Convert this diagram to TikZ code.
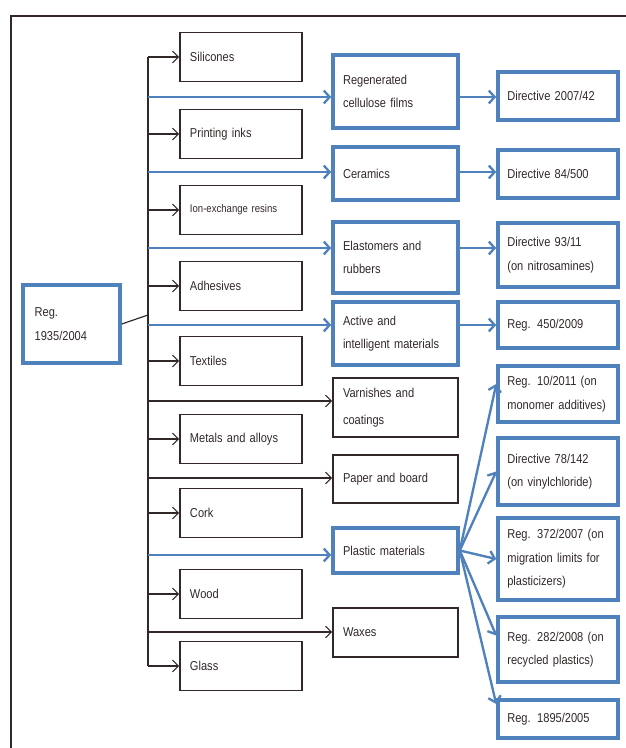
\documentclass[tikz,border=0pt]{standalone}
\usepackage{fontspec}
\setmainfont{Liberation Sans}[FakeStretch=0.86,WordSpace=1.5]
\usetikzlibrary{arrows.meta}
\definecolor{regblue}{RGB}{79,129,189}
\definecolor{inkgray}{RGB}{50,40,40}

\begin{document}
\begin{tikzpicture}[x=0.03cm,y=-0.03cm,>={Straight Barb[length=5pt,width=10pt]},
every node/.style={font=\fontsize{11}{20}\selectfont,text=inkgray,align=left,inner ysep=0pt},
blueframe/.style={draw=regblue,line width=3pt},
blackframe/.style={draw=inkgray,line width=1.3pt},
matbox/.style={blackframe,inner xsep=0.3cm,text width=3.06cm,minimum height=1.47cm},
midbox/.style={inner xsep=0.3cm,text width=3.15cm},
dirbox/.style={blueframe,inner xsep=0.28cm,text width=3.04cm},
blackline/.style={draw=inkgray,line width=1pt,->},
blueline/.style={draw=regblue,line width=2pt,->,>={Straight Barb[length=5pt,width=11pt]}}]
\useasboundingbox (0,0) rectangle (626,748);
\draw[inkgray,line width=1pt] (626,16) -- (11,16) -- (11,748);
\node[blueframe,inner xsep=0.35cm,text width=2.21cm,minimum height=2.34cm] (reg) at (71.5,324) {Reg.\\1935/2004};
\node[matbox] (sil) at (241,57) {Silicones};
\node[matbox] (ink) at (241,134) {Printing inks};
\node[matbox,font=\fontsize{9.5}{20}\selectfont] (ion) at (241,210) {Ion-exchange resins};
\node[matbox] (adh) at (241,286) {Adhesives};
\node[matbox] (tex) at (241,361) {Textiles};
\node[matbox] (met) at (241,439) {Metals and alloys};
\node[matbox] (cork) at (241,513) {Cork};
\node[matbox] (wood) at (241,594) {Wood};
\node[matbox] (glass) at (241,666) {Glass};
\node[midbox,blueframe,minimum height=2.19cm] (rcf) at (395.5,91.5) {Regenerated\\cellulose films};
\node[midbox,blueframe,minimum height=1.59cm] (cer) at (395.5,173.5) {Ceramics};
\node[midbox,blueframe,minimum height=2.13cm] (ela) at (395.5,257.5) {Elastomers and\\rubbers};
\node[midbox,blueframe,minimum height=1.89cm] (act) at (395.5,333.5) {Active and\\intelligent materials};
\node[midbox,blackframe,minimum height=1.77cm] (var) at (395.5,407.5) {Varnishes and\\[3pt]coatings};
\node[midbox,blackframe,minimum height=1.44cm] (pap) at (395.5,479) {Paper and board};
\node[midbox,blueframe,minimum height=1.35cm] (pla) at (395.5,550.5) {Plastic materials};
\node[midbox,blackframe,minimum height=1.47cm] (wax) at (395.5,632.5) {Waxes};
\node[dirbox,minimum height=1.44cm] (d2007) at (558,96) {Directive 2007/42};
\node[dirbox,minimum height=1.44cm] (d84) at (558,174) {Directive 84/500};
\node[dirbox,minimum height=1.92cm] (d93) at (558,255) {Directive 93/11\\(on nitrosamines)};
\node[dirbox,minimum height=1.38cm] (r450) at (558,325) {Reg. 450/2009};
\node[dirbox,minimum height=1.68cm] (r10) at (558,394) {Reg. 10/2011 (on\\monomer additives)};
\node[dirbox,minimum height=2.01cm] (d78) at (558,471.5) {Directive 78/142\\(on vinylchloride)};
\node[dirbox,minimum height=2.46cm] (r372) at (558,559) {Reg. 372/2007 (on\\migration limits for\\plasticizers)};
\node[dirbox,minimum height=1.95cm] (r282) at (558,649.5) {Reg. 282/2008 (on\\recycled plastics)};
\node[dirbox,minimum height=1.14cm] (r1895) at (558,719) {Reg. 1895/2005};
\coordinate (trunk) at (148,0);
\coordinate (join) at (148,315);
\coordinate (b1) at (148,97);
\coordinate (b2) at (148,172);
\coordinate (b3) at (148,248);
\coordinate (b4) at (148,325);
\coordinate (b5) at (148,401);
\coordinate (b6) at (148,478);
\coordinate (b7) at (148,555);
\coordinate (b8) at (148,632);
\draw[blackline,-] (sil.west -| trunk) -- (glass.west -| trunk);
\draw[blackline,-] (reg.east) -- (join);
\path (sil.west -| trunk) edge[blackline] (sil);
\path (ink.west -| trunk) edge[blackline] (ink);
\path (ion.west -| trunk) edge[blackline] (ion);
\path (adh.west -| trunk) edge[blackline] (adh);
\path (tex.west -| trunk) edge[blackline] (tex);
\path (met.west -| trunk) edge[blackline] (met);
\path (cork.west -| trunk) edge[blackline] (cork);
\path (wood.west -| trunk) edge[blackline] (wood);
\path (glass.west -| trunk) edge[blackline] (glass);
\path (b1) edge[blueline] (b1 -| rcf.west) (b1 -| rcf.east) edge[blueline] (b1 -| d2007.west);
\path (b2) edge[blueline] (b2 -| cer.west) (b2 -| cer.east) edge[blueline] (b2 -| d84.west);
\path (b3) edge[blueline] (b3 -| ela.west) (b3 -| ela.east) edge[blueline] (b3 -| d93.west);
\path (b4) edge[blueline] (b4 -| act.west) (b4 -| act.east) edge[blueline] (b4 -| r450.west);
\path (b5) edge[blackline] (b5 -| var.west);
\path (b6) edge[blackline] (b6 -| pap.west);
\path (b7) edge[blueline] (b7 -| pla.west);
\path (b8) edge[blackline] (b8 -| wax.west);
\path[every edge/.style={blueline}] (pla.east) edge ([yshift=0.3cm]r10.west) edge (d78.west)
  edge (r372.west) edge ([yshift=0.42cm]r282.west) edge ([yshift=0.45cm]r1895.west);
\end{tikzpicture}
\end{document}
